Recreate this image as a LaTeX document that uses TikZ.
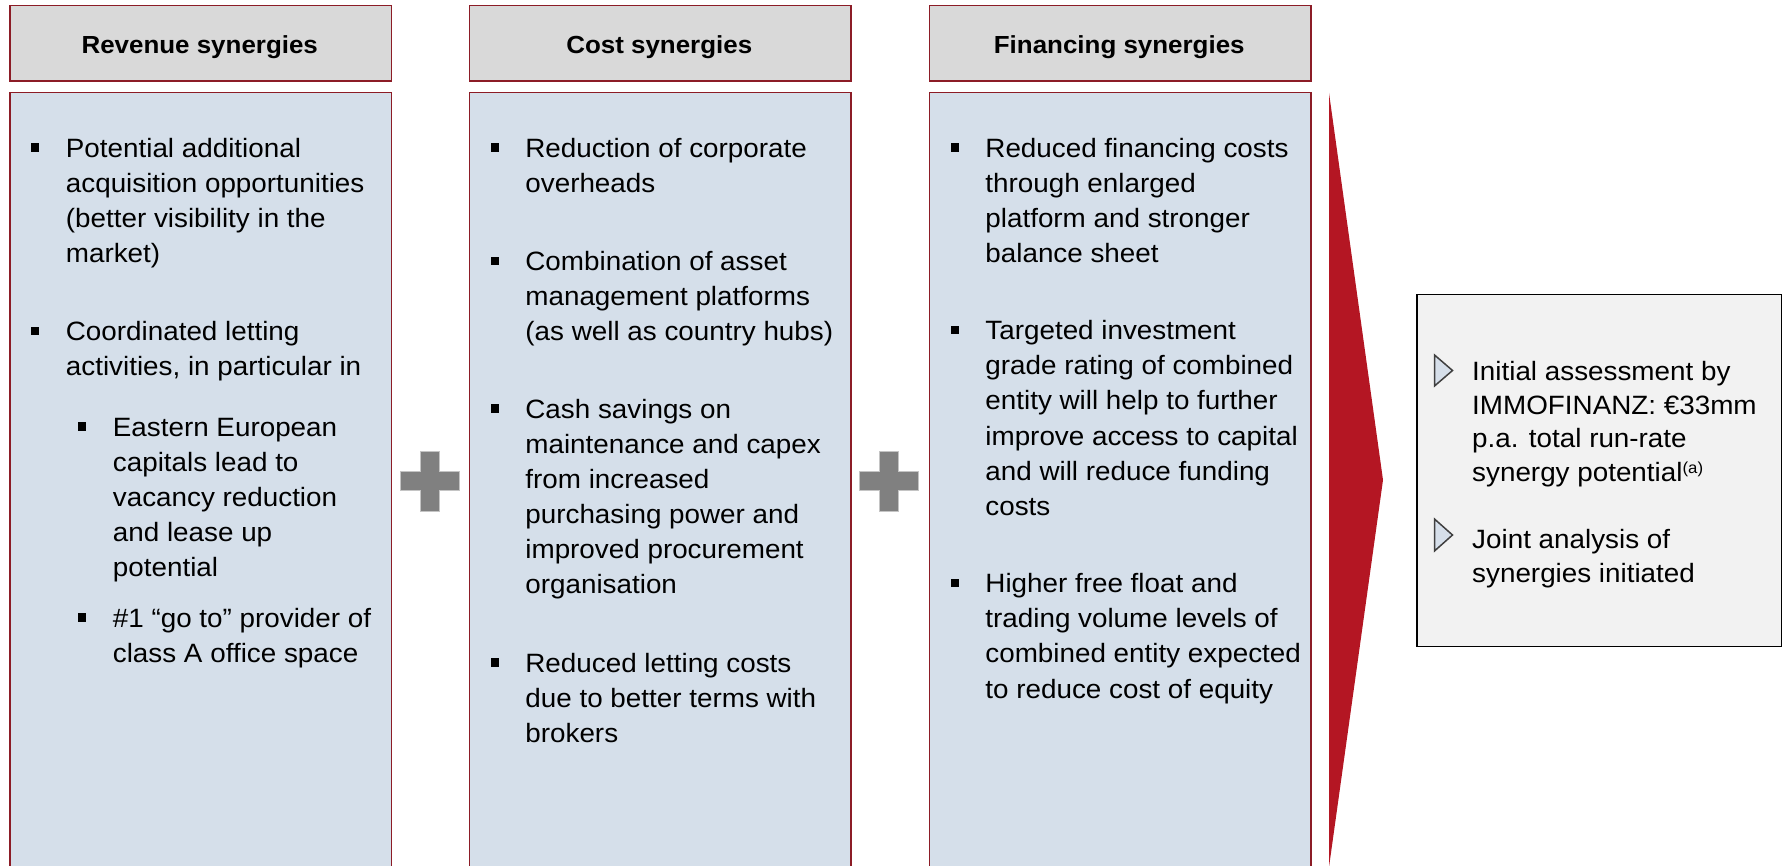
\documentclass[tikz,border=0pt]{standalone}
\usepackage{fontspec}
\setmainfont{Liberation Sans}[FakeStretch=1.05]
\definecolor{bordred}{HTML}{8C1C26}
\definecolor{hdrgray}{HTML}{D9D9D9}
\definecolor{bodyblue}{HTML}{D5DFEA}
\definecolor{arrowred}{HTML}{B41623}
\definecolor{plusgray}{HTML}{808080}
\definecolor{plusedge}{HTML}{C4C4C4}
\definecolor{boxgray}{HTML}{F2F2F2}
\definecolor{tribl}{HTML}{D6DFEA}
\definecolor{tridark}{HTML}{404040}
\newcommand\bpara[4]{\node[txt] (#1) at (#2,{#3-24.57}) {\strut #4};}
\newcommand\cpara[4]{\node[boxtxt] (#1) at (#2,{#3-23.66}) {\strut #4};}
\newcommand\drawplus[3]{\filldraw[plusstyle] (#2-9.5,#3-30) -- (#2+9.5,#3-30) -- (#2+9.5,#3-9.5) -- (#2+29.5,#3-9.5) -- (#2+29.5,#3+9.5) -- (#2+9.5,#3+9.5) -- (#2+9.5,#3+30) -- (#2-9.5,#3+30) -- (#2-9.5,#3+9.5) -- (#2-29.5,#3+9.5) -- (#2-29.5,#3-9.5) -- (#2-9.5,#3-9.5) -- cycle;}
\begin{document}
\begin{tikzpicture}[x=1pt,y=-1pt,
  hdr/.style={draw=bordred, line width=1.5pt, fill=hdrgray, anchor=north west, inner sep=0pt, minimum width=381.5pt, minimum height=75.5pt},
  bodybox/.style={draw=bordred, line width=1.5pt, fill=bodyblue, anchor=north west, inner sep=0pt, minimum width=381.5pt, minimum height=778pt},
  hdrtxt/.style={anchor=base, inner sep=0pt, font=\bfseries\fontsize{24.7}{30}\selectfont},
  txt/.style={anchor=north west, inner sep=0pt, align=left, font=\fontsize{26.5}{35.1}\selectfont},
  boxtxt/.style={anchor=north west, inner sep=0pt, align=left, font=\fontsize{26.5}{33.8}\selectfont},
  bul/.style={fill=black, inner sep=0pt, minimum width=8.5pt, minimum height=8.5pt},
  plusstyle/.style={fill=plusgray, draw=plusedge, line width=0.7pt},
  tribul/.style={fill=tribl, draw=tridark, line width=1.5pt, line join=miter}
]
\clip (0,0) rectangle (1782,866);
% headers
\node[hdr] (h1) at (9,5) {};
\node[hdr] (h2) at (468.5,5) {};
\node[hdr] (h3) at (928.5,5) {};
\node[hdrtxt] (h1t) at (199.75,53.3) {Revenue synergies};
\node[hdrtxt] (h2t) at (659.25,53.3) {Cost synergies};
\node[hdrtxt] (h3t) at (1119.25,53.3) {Financing synergies};
% bodies
\node[bodybox] (c1) at (9,92) {};
\node[bodybox] (c2) at (468.5,92) {};
\node[bodybox] (c3) at (928.5,92) {};
% plus signs
\drawplus{p1}{430}{481}
\drawplus{p2}{888.5}{481}
% red arrow
\fill[arrowred] (1329,93) -- (1383,480) -- (1329,867) -- cycle;
% result box
\node[draw=black, line width=1.5pt, fill=boxgray, anchor=north west, inner sep=0pt, minimum width=365pt, minimum height=351.5pt] (res) at (1416,294) {};
% column 1
\node[bul] (b11) at (35,147.5) {};
\bpara{t11}{65.7}{157}{Potential additional\\acquisition opportunities\\(better visibility in the\\market)}
\node[bul] (b12) at (35,331) {};
\bpara{t12}{65.7}{340.5}{Coordinated letting\\activities, in particular in}
\node[bul] (b13) at (82,426.5) {};
\bpara{t13}{112.7}{436}{Eastern European\\capitals lead to\\vacancy reduction\\and lease up\\potential}
\node[bul] (b14) at (82,617.5) {};
\bpara{t14}{112.7}{627}{\#1 “go to” provider of\\class A office space}
% column 2
\node[bul] (b21) at (494.8,147.5) {};
\bpara{t21}{525.2}{157}{Reduction of corporate\\overheads}
\node[bul] (b22) at (494.8,261) {};
\bpara{t22}{525.2}{270.5}{Combination of asset\\management platforms\\(as well as country hubs)}
\node[bul] (b23) at (494.8,408.5) {};
\bpara{t23}{525.2}{418}{Cash savings on\\maintenance and capex\\from increased\\purchasing power and\\improved procurement\\organisation}
\node[bul] (b24) at (494.8,662.5) {};
\bpara{t24}{525.2}{672}{Reduced letting costs\\due to better terms with\\brokers}
% column 3
\node[bul] (b31) at (954.8,147.5) {};
\bpara{t31}{985.2}{157}{Reduced financing costs\\through enlarged\\platform and stronger\\balance sheet}
\node[bul] (b32) at (954.8,330) {};
\bpara{t32}{985.2}{339.5}{Targeted investment\\grade rating of combined\\entity will help to further\\improve access to capital\\and will reduce funding\\costs}
\node[bul] (b33) at (954.8,583) {};
\bpara{t33}{985.2}{592.5}{Higher free float and\\trading volume levels of\\combined entity expected\\to reduce cost of equity}
% result box content
\filldraw[tribul] (1434.5,355) -- (1452.5,370.5) -- (1434.5,386) -- cycle;
\cpara{r1}{1472}{380}{Initial assessment by\\IMMOFINANZ: €33mm\\p.a. total run-rate\\synergy potential\raisebox{8.5pt}{\fontsize{16}{16}\selectfont (a)}}
\filldraw[tribul] (1434.5,519) -- (1452.5,535) -- (1434.5,551) -- cycle;
\cpara{r2}{1472}{548.3}{Joint analysis of\\synergies initiated}
\end{tikzpicture}
\end{document}
